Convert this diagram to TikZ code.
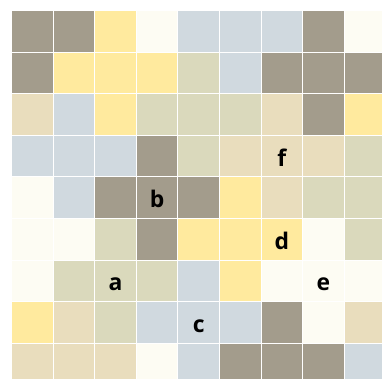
\documentclass[tikz,border=0pt]{standalone}
\usepackage{fontspec}
\newfontfamily\lblfont{Open Sans}
\definecolor{gy}{RGB}{163,156,140}
\definecolor{ye}{RGB}{255,234,158}
\definecolor{cr}{RGB}{253,252,243}
\definecolor{bl}{RGB}{208,217,223}
\definecolor{ol}{RGB}{218,217,188}
\definecolor{be}{RGB}{233,221,189}
\begin{document}
\begin{tikzpicture}[x=1bp,y=-1bp,
  cell/.style={rectangle,draw=none,inner sep=0pt,minimum size=40.6bp},
  lbl/.style={anchor=base,inner sep=0pt,font=\lblfont\bfseries\fontsize{23}{23}\selectfont}]
\fill[white] (0,0) rectangle (382,379);
\useasboundingbox (0,0) rectangle (382,379);
\clip (0,0) rectangle (382,379);
\foreach \rowcols [count=\r from 0] in {
  {gy,gy,ye,cr,bl,bl,bl,gy,cr},
  {gy,ye,ye,ye,ol,bl,gy,gy,gy},
  {be,bl,ye,ol,ol,ol,be,gy,ye},
  {bl,bl,bl,gy,ol,be,be,be,ol},
  {cr,bl,gy,gy,gy,ye,be,ol,ol},
  {cr,cr,ol,gy,ye,ye,ye,cr,ol},
  {cr,ol,ol,ol,bl,ye,cr,cr,cr},
  {ye,be,ol,bl,bl,bl,gy,cr,be},
  {be,be,be,cr,bl,gy,gy,gy,bl}} {
  \foreach \col [count=\c from 0] in \rowcols {
    \node[cell,fill=\col] (n\r\c) at ({32.3+41.6*\c},{31.3+41.6*\r}) {};
  }
}
\node[lbl] (lb) at ({32.3+41.6*3},{41.3+41.6*4}) {b};
\node[lbl] (la) at ({32.3+41.6*2},{41.3+41.6*6}) {a};
\node[lbl] (lc) at ({32.3+41.6*4},{41.3+41.6*7}) {c};
\node[lbl] (ld) at ({32.3+41.6*6},{41.3+41.6*5}) {d};
\node[lbl] (le) at ({32.3+41.6*7},{41.3+41.6*6}) {e};
\node[lbl] (lf) at ({32.3+41.6*6},{41.3+41.6*3}) {f};
\end{tikzpicture}
\end{document}
